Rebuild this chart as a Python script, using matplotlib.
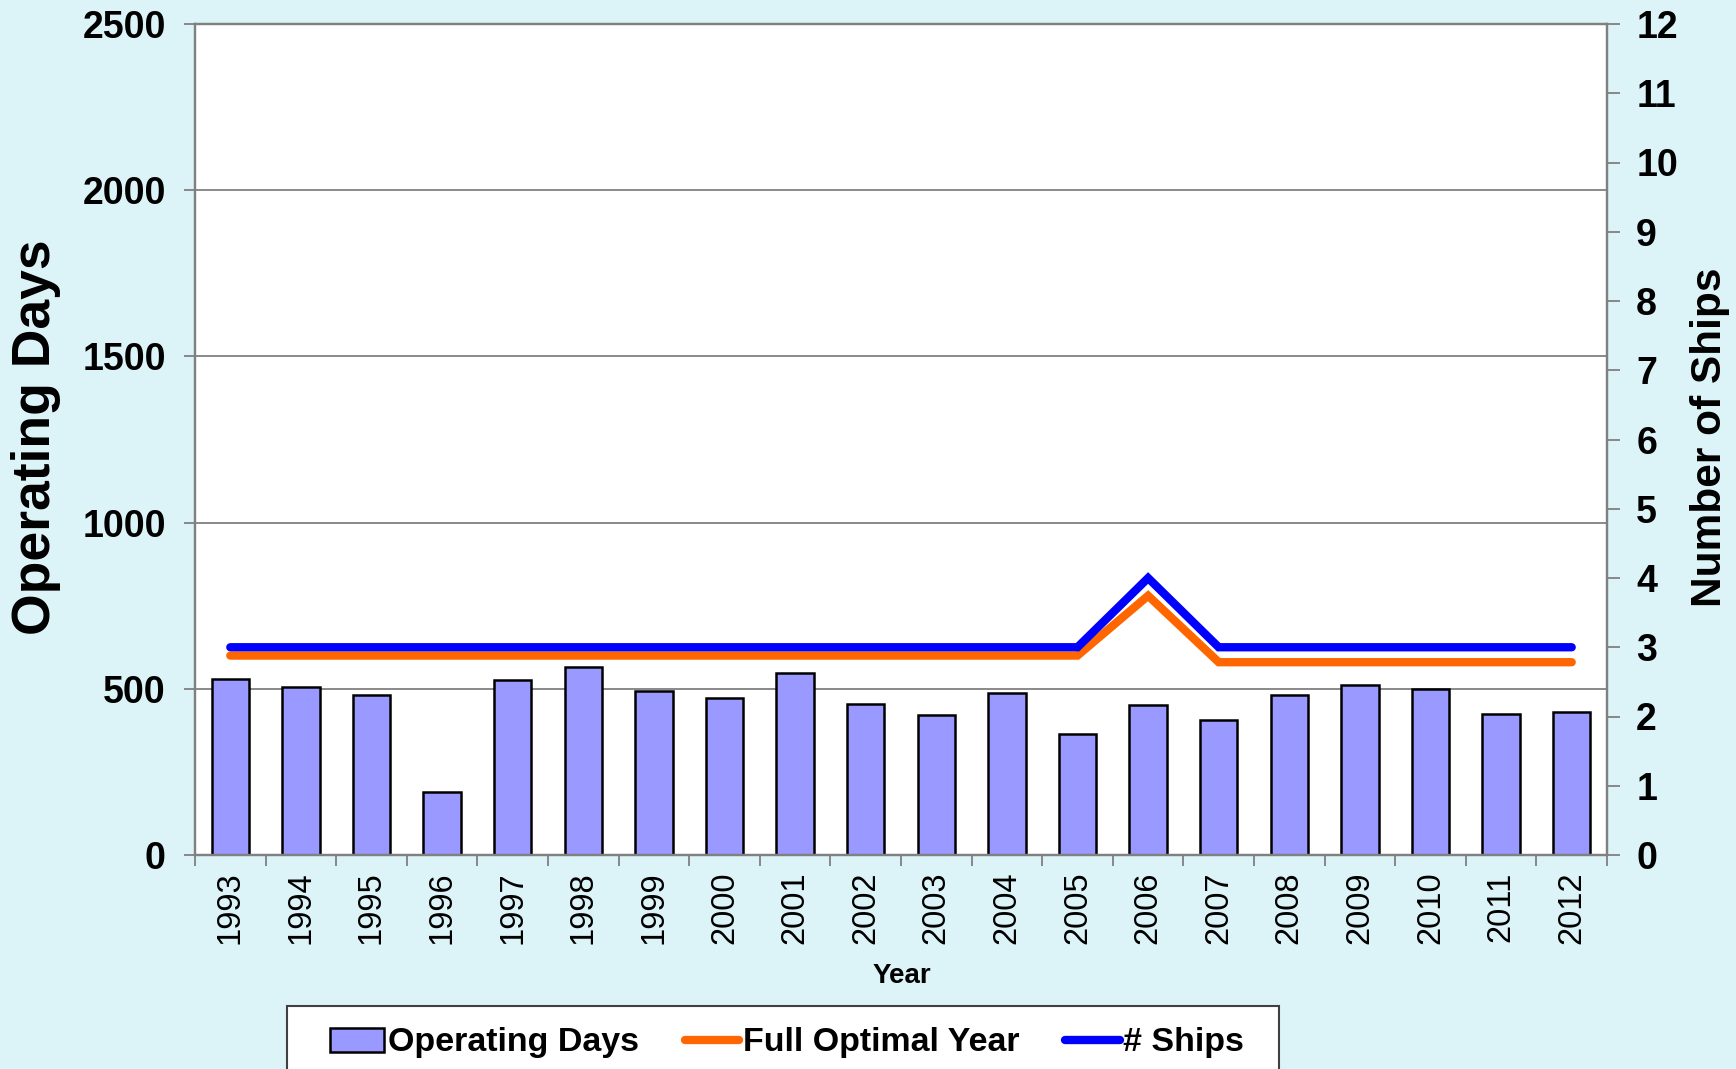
import matplotlib
matplotlib.use("Agg")
import matplotlib.pyplot as plt
from matplotlib.patches import Rectangle
import numpy as np

# ---------- données ----------
years = ["1993", "1994", "1995", "1996", "1997", "1998", "1999", "2000", "2001", "2002",
         "2003", "2004", "2005", "2006", "2007", "2008", "2009", "2010", "2011", "2012"]
operating_days = [528, 505, 482, 189, 525, 565, 494, 471, 547, 454,
                  421, 486, 364, 452, 407, 480, 511, 500, 423, 430]
full_optimal_year = [600, 600, 600, 600, 600, 600, 600, 600, 600, 600,
                     600, 600, 600, 780, 580, 580, 580, 580, 580, 580]
n_ships = [3, 3, 3, 3, 3, 3, 3, 3, 3, 3,
           3, 3, 3, 4, 3, 3, 3, 3, 3, 3]
left_ticks = [0, 500, 1000, 1500, 2000, 2500]
right_ticks = list(range(0, 13))
# ---------------------------------------------------

W, H = 1736, 1069
BG = "#DCF4F8"
GRID = "#808080"

plt.rcParams["font.family"] = ["Liberation Sans", "DejaVu Sans"]

fig = plt.figure(figsize=(W / 100, H / 100), dpi=100, facecolor=BG)
ax = fig.add_axes([195 / W, 1 - 855 / H, (1607 - 195) / W, (855 - 24) / H])
ax.set_facecolor("white")

x = np.arange(len(years))
bars = ax.bar(x, operating_days, width=0.53, color="#9999FF", edgecolor="black",
              linewidth=1.8, zorder=2, label="Operating Days")
l_opt, = ax.plot(x, full_optimal_year, color="#FF6600", lw=6, solid_capstyle="round",
                 solid_joinstyle="miter", zorder=3, label="Full Optimal Year")

ax.set_xlim(-0.5, len(years) - 0.5)
ax.set_ylim(0, 2500)
ax.set_yticks(left_ticks)
ax.set_yticklabels([str(v) for v in left_ticks], fontsize=27, fontweight="bold")
ax.yaxis.grid(True, color=GRID, lw=1.3, zorder=0)
ax.set_axisbelow(True)

ax.set_xticks(x)
ax.set_xticklabels(years, rotation=90, fontsize=23.5)
ax.set_xticks(np.arange(-0.5, len(years)), minor=True)
ax.tick_params(axis="x", which="major", length=0, pad=12)
ax.tick_params(axis="x", which="minor", length=8, width=1.3, color=GRID, direction="out")
ax.tick_params(axis="y", length=8, width=1.3, color=GRID, pad=13)

for s in ["left", "right", "bottom", "top"]:
    ax.spines[s].set_color(GRID)
    ax.spines[s].set_linewidth(1.6)

ax2 = ax.twinx()
l_ships, = ax2.plot(x, n_ships, color="#0000FF", lw=6, solid_capstyle="round",
                    solid_joinstyle="miter", zorder=4, label="# Ships")
ax2.set_ylim(0, 12)
ax2.set_yticks(right_ticks)
ax2.set_yticklabels([str(v) for v in right_ticks], fontsize=27, fontweight="bold")
ax2.tick_params(axis="y", length=9, width=1.3, color=GRID, pad=12)
for s in ["left", "right", "bottom", "top"]:
    ax2.spines[s].set_color(GRID)
    ax2.spines[s].set_linewidth(1.6)

# titres des axes
fig.text(36 / W, 1 - 437 / H, "Operating Days", rotation=90, fontsize=38.5,
         fontweight="bold", ha="center", va="center")
fig.text(1710 / W, 1 - 437 / H, "Number of Ships", rotation=90, fontsize=30.5,
         fontweight="bold", ha="center", va="center")
fig.text(902 / W, 1 - 976 / H, "Year", fontsize=20, fontweight="bold",
         ha="center", va="center")

# cadre de la légende (coupé en bas comme l'original)
fig.patches.append(Rectangle((287 / W, -0.05), (1279 - 287) / W, 0.05 + (1 - 1006 / H),
                             transform=fig.transFigure, facecolor="white",
                             edgecolor="#404040", linewidth=1.5, zorder=1))

leg = fig.legend([bars, l_opt, l_ships], ["Operating Days", "Full Optimal Year", "# Ships"],
                 loc="center left", bbox_to_anchor=(330 / W, 1 - 1043 / H),
                 ncol=3, frameon=False, borderpad=0,
                 prop={"size": 24.5, "weight": "bold"}, handlelength=1.6,
                 handletextpad=0.1, columnspacing=1.35, borderaxespad=0)
leg.set_zorder(2)

fig.savefig("out.png", dpi=100, facecolor=BG)
